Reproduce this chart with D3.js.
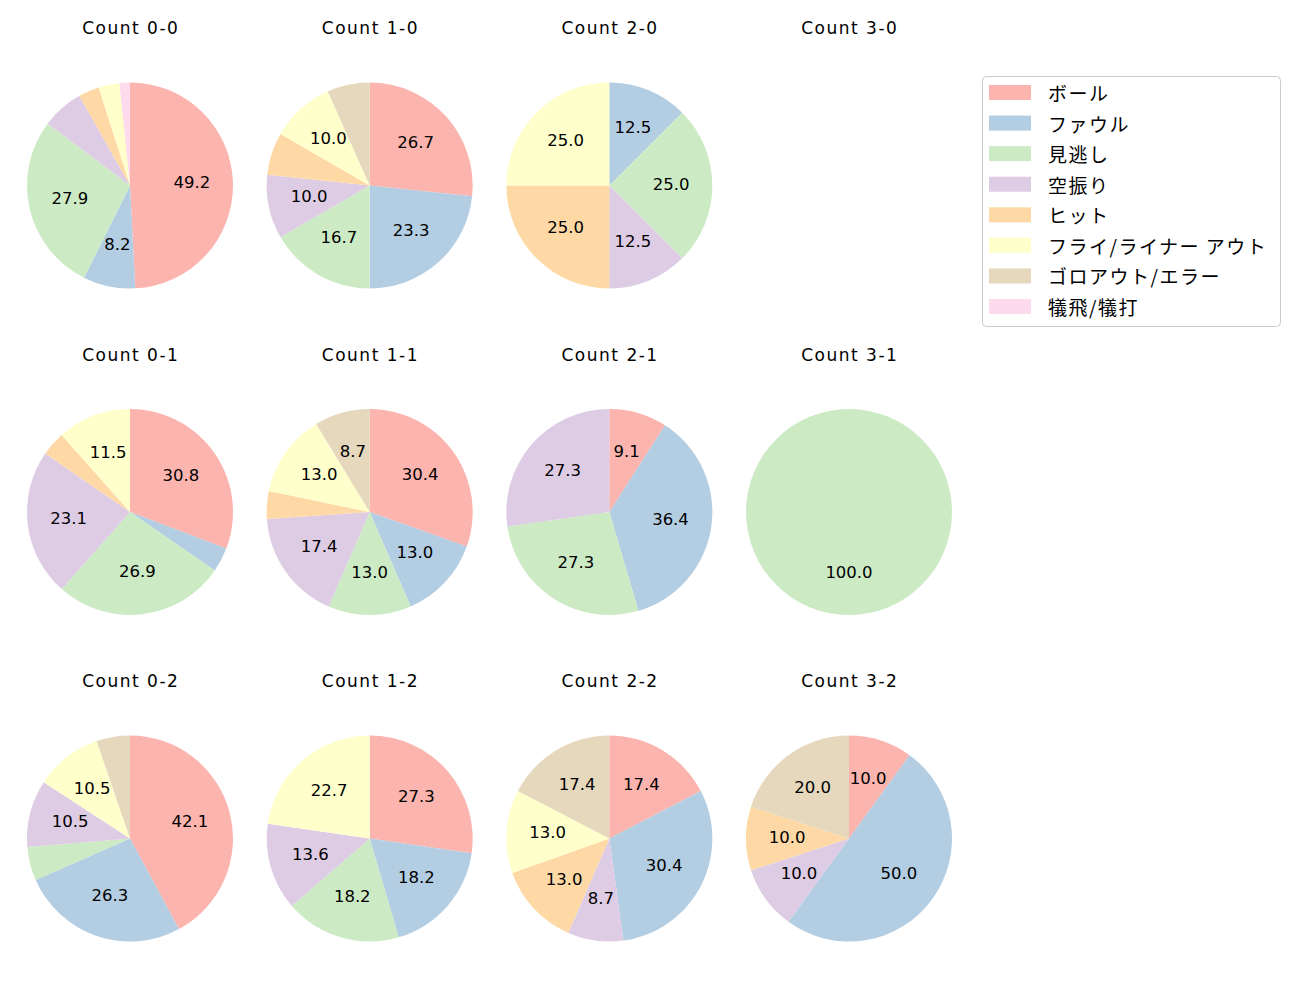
<!DOCTYPE html>
<html><head><meta charset="utf-8">
<script src="https://cdn.jsdelivr.net/npm/d3@7"></script>
<style>body{margin:0;background:#fff;} text{font-family:"DejaVu Sans","Noto Sans CJK JP",sans-serif;fill:#000;}
.leg{font-family:"Noto Sans CJK JP",sans-serif;}</style>
</head><body>
<svg id="c" width="1300" height="1000"></svg>
<script>
const categories = ["ボール","ファウル","見逃し","空振り","ヒット","フライ/ライナー アウト","ゴロアウト/エラー","犠飛/犠打"];
const colors = ["#fbb4ae","#b3cde3","#ccebc5","#decbe4","#fed9a6","#ffffcc","#e5d8bd","#fddaec"];
const counts = ["0-0","1-0","2-0","3-0","0-1","1-1","2-1","3-1","0-2","1-2","2-2","3-2"];
// pitch counts per category (same order as categories)
const c00 = [30,5,17,4,2,2,0,1];
const c10 = [8,7,5,3,2,3,2,0];
const c20 = [0,1,2,1,2,2,0,0];
const c30 = [0,0,0,0,0,0,0,0];
const c01 = [8,1,7,6,1,3,0,0];
const c11 = [7,3,3,4,1,3,2,0];
const c21 = [1,4,3,3,0,0,0,0];
const c31 = [0,0,1,0,0,0,0,0];
const c02 = [8,5,1,2,0,2,1,0];
const c12 = [6,4,4,3,0,5,0,0];
const c22 = [4,7,0,2,3,3,4,0];
const c32 = [1,5,0,1,1,0,2,0];
const series = [c00,c10,c20,c30,c01,c11,c21,c31,c02,c12,c22,c32];

const svg = d3.select("#c");
const colX = d3.scalePoint().domain([0,1,2,3]).range([130,849]);
const rowY = d3.scalePoint().domain([0,1,2]).range([185.5,838.5]);
const R = 103;
const pie = d3.pie().sort(null).value(d=>d.v).startAngle(0).endAngle(2*Math.PI);
const arc = d3.arc().innerRadius(0).outerRadius(R);

counts.forEach((cnt,i)=>{
  const col=i%4, row=Math.floor(i/4);
  const cx=colX(col), cy=rowY(row);
  svg.append("text").attr("x",cx+0.75).attr("y",cy-151.2).attr("text-anchor","middle")
    .style("font-size","17px").style("letter-spacing","1.5px").text("Count "+cnt);
  const vals = series[i].map((v,k)=>({v,k}));
  const total = d3.sum(vals,d=>d.v);
  if(total===0) return;
  const g = svg.append("g").attr("transform",`translate(${cx},${cy})`);
  const arcs = pie(vals.filter(d=>d.v>0));
  g.selectAll("path").data(arcs).enter().append("path")
    .attr("d",arc).attr("fill",d=>colors[d.data.k]);
  g.selectAll("text").data(arcs.filter(d=>d.data.v/total*100>7)).enter().append("text")
    .attr("transform",d=>{
      const a=(d.startAngle+d.endAngle)/2;
      return `translate(${Math.sin(a)*R*0.6},${-Math.cos(a)*R*0.6})`;
    })
    .attr("text-anchor","middle").attr("dy","0.25em")
    .style("font-size","16.5px").text(d=>(d.data.v/total*100).toFixed(1));
});

// legend
const lg = svg.append("g");
lg.append("rect").attr("x",982.5).attr("y",76.5).attr("width",298).attr("height",250)
  .attr("rx",4).attr("fill","#fff").attr("stroke","#cccccc").attr("stroke-width",1);
const ly = d3.scaleLinear().domain([0,7]).range([92.5,306.5]);
categories.forEach((c,k)=>{
  lg.append("rect").attr("x",989).attr("y",ly(k)-7.5).attr("width",42).attr("height",15).attr("fill",colors[k]);
  lg.append("text").attr("class","leg").attr("x",1048).attr("y",ly(k)).attr("dominant-baseline","central")
    .style("font-size","19px").style("letter-spacing","1.5px").text(c);
});
</script>
</body></html>
